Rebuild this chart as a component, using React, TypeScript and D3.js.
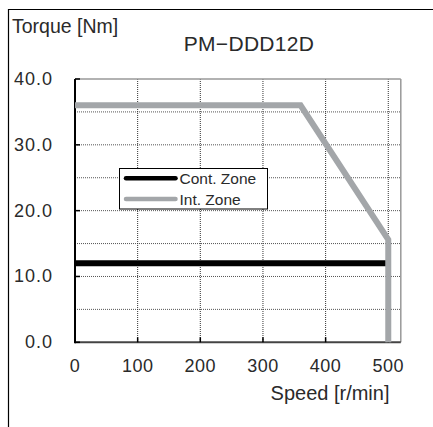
import React from "react";
import * as d3 from "d3";

const title = "PM\u2212DDD12D";
const yTitle = "Torque [Nm]";
const xTitle = "Speed [r/min]";

const xTicks = [0, 100, 200, 300, 400, 500];
const yTicks = [0, 10, 20, 30, 40];
const yGrid = [5, 10, 15, 20, 25, 30, 35];

const contSpeed = [0, 500];
const contTorque = [12, 12];

const intSpeed = [0, 360, 500, 500];
const intTorque = [36, 36, 15.6, 0];

const seriesNames = ["Cont. Zone", "Int. Zone"];
const seriesColors = ["#000000", "#a3a6a9"];

const W = 433;
const H = 427;
const FONT = "'Liberation Sans', Arial, Helvetica, sans-serif";
const TXT = "#2a2a2a";

export default function App() {
  const x = d3.scaleLinear().domain([0, 520]).range([75, 400.8]);
  const y = d3.scaleLinear().domain([0, 40]).range([342.3, 79]);

  const line = d3
    .line<[number, number]>()
    .x((d) => x(d[0]))
    .y((d) => y(d[1]));

  const contPts = contSpeed.map((s, i) => [s, contTorque[i]] as [number, number]);
  const intPts = intSpeed.map((s, i) => [s, intTorque[i]] as [number, number]);

  const x0 = x(0);
  const x1 = x(520);
  const y0 = y(0);
  const y1 = y(40);

  const lx = 119.5;
  const ly = 168.5;

  return (
    <svg
      width={W}
      height={H}
      style={{ position: "absolute", left: 0, top: 0, background: "#fff" }}
      fontFamily={FONT}
    >
      <rect x={0} y={0} width={W} height={H} fill="#fff" />
      {/* outer frame */}
      <path d={`M8.5,${H}V9.5H${W}`} fill="none" stroke="#000" strokeWidth={1.2} />

      <text x={12} y={33} fontSize={19.5} fill={TXT}>
        {yTitle}
      </text>
      <text x={249} y={51} fontSize={21} textAnchor="middle" fill={TXT} letterSpacing={0.3}>
        {title}
      </text>

      {/* grid */}
      {yGrid.map((v) => (
        <line
          key={"hy" + v}
          x1={x0}
          x2={x1}
          y1={y(v)}
          y2={y(v)}
          stroke="#555"
          strokeWidth={1}
          strokeDasharray="1,1"
        />
      ))}
      {xTicks
        .filter((v) => v > 0)
        .map((v) => (
          <line
            key={"vx" + v}
            x1={x(v)}
            x2={x(v)}
            y1={y1}
            y2={y0}
            stroke="#333"
            strokeWidth={1}
            strokeDasharray="1,1"
          />
        ))}

      {/* frame of plot */}
      <line x1={x0} x2={x1} y1={y1} y2={y1} stroke="#999" strokeWidth={1.5} />
      <line x1={x1} x2={x1} y1={y1} y2={y0} stroke="#999" strokeWidth={1.5} />
      <line x1={x0} x2={x1} y1={y0} y2={y0} stroke="#444" strokeWidth={2} />
      <line x1={x0} x2={x0} y1={y1} y2={y0 + 1} stroke="#000" strokeWidth={2} />
      {yTicks.map((v) => (
        <line key={"ty" + v} x1={x0} x2={x0 + 5} y1={y(v)} y2={y(v)} stroke="#000" strokeWidth={1.5} />
      ))}
      {xTicks.map((v) => (
        <line key={"tx" + v} x1={x(v)} x2={x(v)} y1={y0} y2={y0 - 5} stroke="#000" strokeWidth={1.5} />
      ))}

      {/* tick labels */}
      {yTicks.map((v) => (
        <text
          key={"ly" + v}
          x={53}
          y={y(v) + 6}
          fontSize={18}
          textAnchor="end"
          fill={TXT}
          letterSpacing={1}
        >
          {v.toFixed(1)}
        </text>
      ))}
      {xTicks.map((v) => (
        <text
          key={"lx" + v}
          x={x(v)}
          y={371.5}
          fontSize={18}
          textAnchor="middle"
          fill={TXT}
          letterSpacing={0.5}
        >
          {v}
        </text>
      ))}
      <text x={389.5} y={400} fontSize={20} textAnchor="end" fill={TXT}>
        {xTitle}
      </text>

      {/* series */}
      <path d={line(contPts) || ""} fill="none" stroke={seriesColors[0]} strokeWidth={6} />
      <path d={line(intPts) || ""} fill="none" stroke={seriesColors[1]} strokeWidth={6} strokeLinejoin="miter" />

      {/* legend */}
      <rect x={lx} y={ly} width={148} height={40.5} fill="#fff" stroke="#000" strokeWidth={1} />
      {seriesNames.map((n, i) => (
        <g key={n}>
          <line
            x1={126}
            x2={175.5}
            y1={178.3 + i * 20.7}
            y2={178.3 + i * 20.7}
            stroke={seriesColors[i]}
            strokeWidth={4.5}
            strokeLinecap="round"
          />
          <text x={179.5} y={184 + i * 20.7} fontSize={15.5} fill={TXT}>
            {n}
          </text>
        </g>
      ))}
    </svg>
  );
}
